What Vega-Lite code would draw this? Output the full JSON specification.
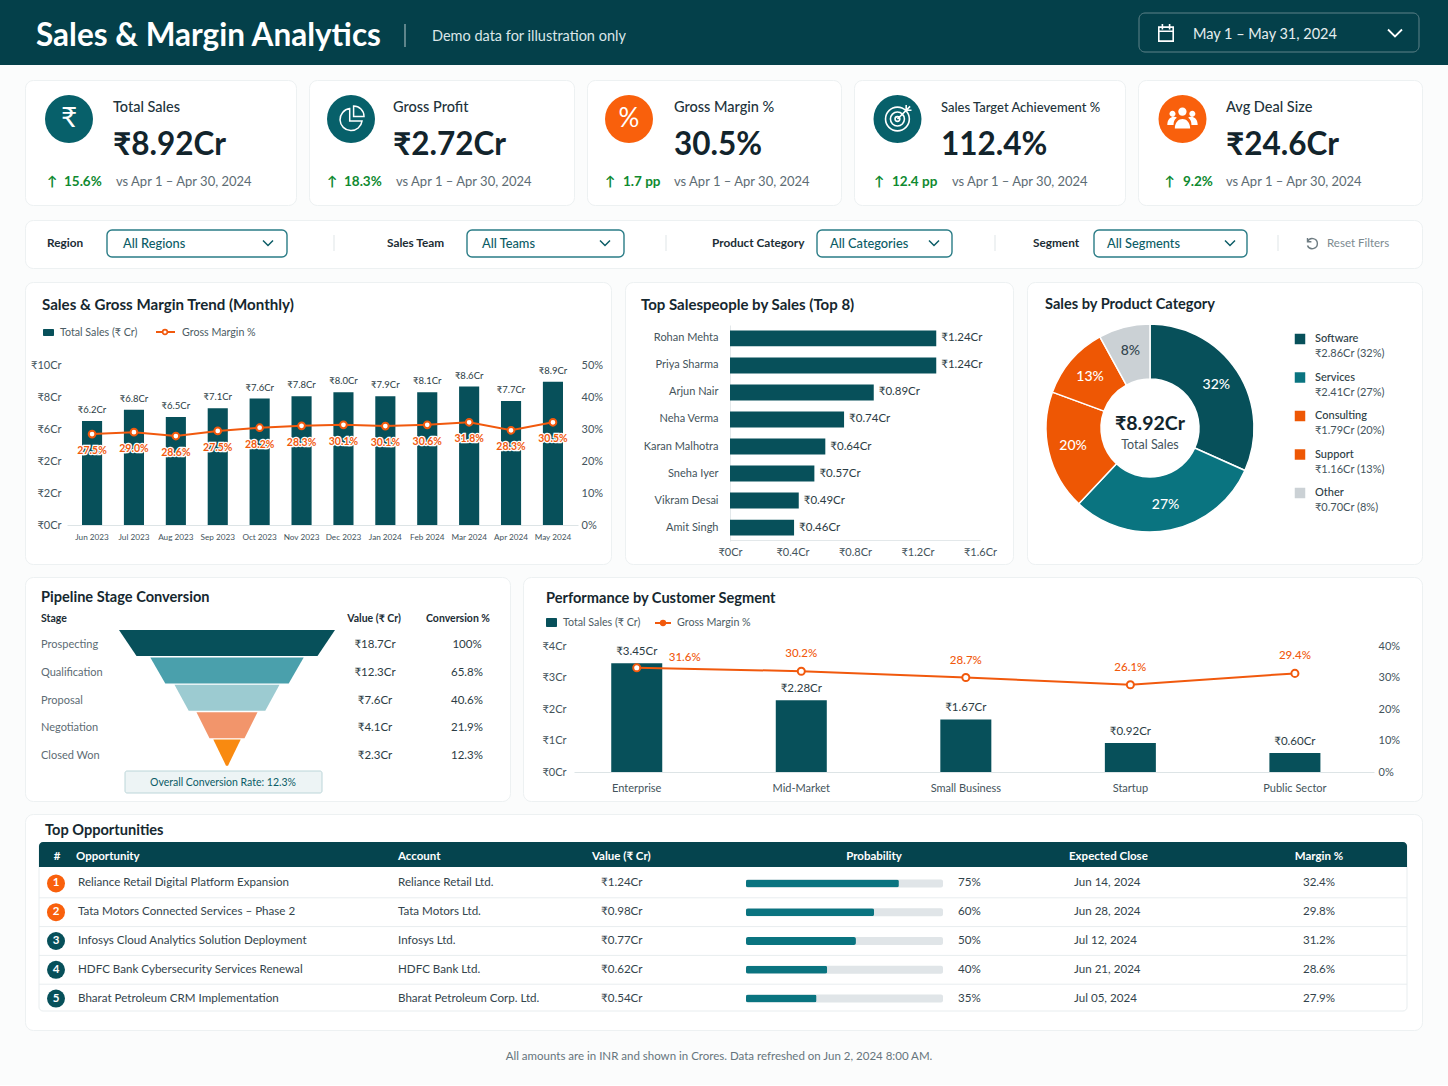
{
  "$schema": "https://vega.github.io/schema/vega-lite/v6.json",
  "description": "Sales and margin analytics dashboard",
  "background": "#fbfcfc",
  "padding": 0,
  "data": {"values": [{}]},
  "config": {
    "view": {"stroke": null},
    "font": "Lato",
    "text": {"font": "Lato", "baseline": "middle", "align": "left"},
    "axis": {"grid": false, "ticks": false, "domain": false, "labelFlush": false, "labelFont": "Lato", "labelColor": "#44545c", "labelFontSize": 11, "title": null},
    "style": {
      "cardTitle": {"fontSize": 14.6, "fontWeight": 700, "color": "#16282f"},
      "kpiLabel": {"fontSize": 14.5, "fontWeight": 500, "color": "#22333b"},
      "kpiValue": {"fontSize": 31.5, "fontWeight": 700, "color": "#12242c"},
      "kpiDelta": {"fontSize": 13.5, "fontWeight": 700, "color": "#0f8a30"},
      "kpiVs": {"fontSize": 13, "color": "#5d6c74"},
      "filterLabel": {"fontSize": 11.8, "fontWeight": 700, "color": "#1c2d35"},
      "filterValue": {"fontSize": 12.8, "fontWeight": 500, "color": "#0b5c66"},
      "legendText": {"fontSize": 10.7, "color": "#4c5c64"},
      "tableHead": {"fontSize": 11.5, "fontWeight": 700, "color": "#ffffff"},
      "tableCell": {"fontSize": 11.6, "color": "#33444c"}
    }
  },
  "datasets": {
    "trend": [
      {"month": "Jun 2023", "sales": 6.5, "salesLabel": "₹6.2Cr", "margin": 28.4, "marginLabel": "27.5%"},
      {"month": "Jul 2023", "sales": 7.2, "salesLabel": "₹6.8Cr", "margin": 29.0, "marginLabel": "29.0%"},
      {"month": "Aug 2023", "sales": 6.75, "salesLabel": "₹6.5Cr", "margin": 27.8, "marginLabel": "28.6%"},
      {"month": "Sep 2023", "sales": 7.3, "salesLabel": "₹7.1Cr", "margin": 29.4, "marginLabel": "27.5%"},
      {"month": "Oct 2023", "sales": 7.9, "salesLabel": "₹7.6Cr", "margin": 30.4, "marginLabel": "28.2%"},
      {"month": "Nov 2023", "sales": 8.05, "salesLabel": "₹7.8Cr", "margin": 31.0, "marginLabel": "28.3%"},
      {"month": "Dec 2023", "sales": 8.3, "salesLabel": "₹8.0Cr", "margin": 31.3, "marginLabel": "30.1%"},
      {"month": "Jan 2024", "sales": 8.05, "salesLabel": "₹7.9Cr", "margin": 30.9, "marginLabel": "30.1%"},
      {"month": "Feb 2024", "sales": 8.3, "salesLabel": "₹8.1Cr", "margin": 31.3, "marginLabel": "30.6%"},
      {"month": "Mar 2024", "sales": 8.65, "salesLabel": "₹8.6Cr", "margin": 32.1, "marginLabel": "31.8%"},
      {"month": "Apr 2024", "sales": 7.75, "salesLabel": "₹7.7Cr", "margin": 29.6, "marginLabel": "28.3%"},
      {"month": "May 2024", "sales": 8.95, "salesLabel": "₹8.9Cr", "margin": 32.1, "marginLabel": "30.5%"}
    ],
    "people": [
      {"name": "Rohan Mehta", "sales": 1.32, "label": "₹1.24Cr"},
      {"name": "Priya Sharma", "sales": 1.32, "label": "₹1.24Cr"},
      {"name": "Arjun Nair", "sales": 0.92, "label": "₹0.89Cr"},
      {"name": "Neha Verma", "sales": 0.73, "label": "₹0.74Cr"},
      {"name": "Karan Malhotra", "sales": 0.61, "label": "₹0.64Cr"},
      {"name": "Sneha Iyer", "sales": 0.54, "label": "₹0.57Cr"},
      {"name": "Vikram Desai", "sales": 0.44, "label": "₹0.49Cr"},
      {"name": "Amit Singh", "sales": 0.41, "label": "₹0.46Cr"}
    ],
    "category": [
      {"i": 1, "cat": "Software", "share": 31.7, "pct": "32%", "detail": "₹2.86Cr (32%)"},
      {"i": 2, "cat": "Services", "share": 30.3, "pct": "27%", "detail": "₹2.41Cr (27%)"},
      {"i": 3, "cat": "Consulting", "share": 18.6, "pct": "20%", "detail": "₹1.79Cr (20%)"},
      {"i": 4, "cat": "Support", "share": 11.4, "pct": "13%", "detail": "₹1.16Cr (13%)"},
      {"i": 5, "cat": "Other", "share": 8.0, "pct": "8%", "detail": "₹0.70Cr (8%)"}
    ],
    "funnel": [
      {"stage": "Prospecting", "level": 0, "from": -108, "to": 108},
      {"stage": "Prospecting", "level": 0.95, "from": -90.5, "to": 90.5},
      {"stage": "Qualification", "level": 1, "from": -76.7, "to": 76.7},
      {"stage": "Qualification", "level": 1.95, "from": -61.7, "to": 61.7},
      {"stage": "Proposal", "level": 2, "from": -52.5, "to": 52.5},
      {"stage": "Proposal", "level": 2.95, "from": -38.3, "to": 38.3},
      {"stage": "Negotiation", "level": 3, "from": -30.5, "to": 30.5},
      {"stage": "Negotiation", "level": 3.95, "from": -17.5, "to": 17.5},
      {"stage": "Closed Won", "level": 4, "from": -13.7, "to": 13.7},
      {"stage": "Closed Won", "level": 4.95, "from": -1, "to": 1}
    ],
    "stages": [
      {"stage": "Prospecting", "value": "₹18.7Cr", "conv": "100%"},
      {"stage": "Qualification", "value": "₹12.3Cr", "conv": "65.8%"},
      {"stage": "Proposal", "value": "₹7.6Cr", "conv": "40.6%"},
      {"stage": "Negotiation", "value": "₹4.1Cr", "conv": "21.9%"},
      {"stage": "Closed Won", "value": "₹2.3Cr", "conv": "12.3%"}
    ],
    "segment": [
      {"seg": "Enterprise", "sales": 3.45, "salesLabel": "₹3.45Cr", "margin": 33.1, "marginLabel": "31.6%"},
      {"seg": "Mid-Market", "sales": 2.28, "salesLabel": "₹2.28Cr", "margin": 32.0, "marginLabel": "30.2%"},
      {"seg": "Small Business", "sales": 1.67, "salesLabel": "₹1.67Cr", "margin": 30.0, "marginLabel": "28.7%"},
      {"seg": "Startup", "sales": 0.92, "salesLabel": "₹0.92Cr", "margin": 27.7, "marginLabel": "26.1%"},
      {"seg": "Public Sector", "sales": 0.6, "salesLabel": "₹0.60Cr", "margin": 31.3, "marginLabel": "29.4%"}
    ],
    "opps": [
      {"rank": 1, "opp": "Reliance Retail Digital Platform Expansion", "account": "Reliance Retail Ltd.", "value": "₹1.24Cr", "bar": 77.6, "prob": "75%", "close": "Jun 14, 2024", "margin": "32.4%"},
      {"rank": 2, "opp": "Tata Motors Connected Services – Phase 2", "account": "Tata Motors Ltd.", "value": "₹0.98Cr", "bar": 65, "prob": "60%", "close": "Jun 28, 2024", "margin": "29.8%"},
      {"rank": 3, "opp": "Infosys Cloud Analytics Solution Deployment", "account": "Infosys Ltd.", "value": "₹0.77Cr", "bar": 55.8, "prob": "50%", "close": "Jul 12, 2024", "margin": "31.2%"},
      {"rank": 4, "opp": "HDFC Bank Cybersecurity Services Renewal", "account": "HDFC Bank Ltd.", "value": "₹0.62Cr", "bar": 41.2, "prob": "40%", "close": "Jun 21, 2024", "margin": "28.6%"},
      {"rank": 5, "opp": "Bharat Petroleum CRM Implementation", "account": "Bharat Petroleum Corp. Ltd.", "value": "₹0.54Cr", "bar": 35.8, "prob": "35%", "close": "Jul 05, 2024", "margin": "27.9%"}
    ]
  },
  "spacing": 0,
  "vconcat": [
    {
      "width": 1448,
      "height": 65,
      "view": {"fill": "#04404a", "stroke": null},
      "layer": [
        {"mark": {"type": "text", "text": "Sales & Margin Analytics", "x": 36, "y": 37, "fontSize": 31.5, "fontWeight": 700, "fill": "#ffffff"}},
        {"mark": {"type": "rule", "stroke": "#9db4b8", "strokeWidth": 1.2}, "encoding": {"x": {"value": 405}, "y": {"value": 24}, "y2": {"value": 47}}},
        {"mark": {"type": "text", "text": "Demo data for illustration only", "x": 432, "y": 37, "fontSize": 14.5, "fill": "#dbe6e8"}},
        {"mark": {"type": "rect", "fill": "#04404a", "stroke": "#5f8289", "cornerRadius": 6}, "encoding": {"x": {"value": 1139}, "x2": {"value": 1419}, "y": {"value": 13}, "y2": {"value": 52}}},
        {"mark": {"type": "point", "x": 1166, "y": 33, "shape": "M-.8,-.65H.8V.9H-.8Z M-.8,-.2H.8 M-.4,-1V-.4 M.4,-1V-.4", "size": 324, "filled": false, "stroke": "#ffffff", "strokeWidth": 1.6, "opacity": 1}},
        {"mark": {"type": "text", "text": "May 1 – May 31, 2024", "x": 1193, "y": 35, "fontSize": 14.5, "fill": "#e6eeef"}},
        {"mark": {"type": "point", "x": 1395, "y": 33, "shape": "M-1,-.5L0,.5L1,-.5", "size": 196, "filled": false, "stroke": "#ffffff", "strokeWidth": 1.8, "opacity": 1}}
      ]
    },
    {"width": 1, "height": 14, "mark": {"type": "text", "text": ""}},
    {
      "bounds": "flush",
      "spacing": 13,
      "hconcat": [
        {"width": 12, "height": 10, "mark": {"type": "text", "text": ""}},
        {
          "width": 271, "height": 125,
          "view": {"fill": "#ffffff", "stroke": "#edf1f2", "cornerRadius": 8},
          "layer": [
            {"mark": {"type": "point", "x": 44, "y": 39, "size": 2304, "filled": true, "fill": "#07606a", "opacity": 1}},
            {"mark": {"type": "text", "text": "₹", "x": 44, "y": 39, "align": "center", "fontSize": 28, "fill": "#ffffff"}},
            {"mark": {"type": "text", "text": "Total Sales", "x": 88, "y": 28, "style": "kpiLabel"}},
            {"mark": {"type": "text", "text": "₹8.92Cr", "x": 88, "y": 66, "style": "kpiValue"}},
            {"mark": {"type": "text", "text": "↑", "x": 27, "y": 102, "align": "center", "style": "kpiDelta"}},
            {"mark": {"type": "text", "text": "15.6%", "x": 39, "y": 102, "style": "kpiDelta"}},
            {"mark": {"type": "text", "text": "vs Apr 1 – Apr 30, 2024", "x": 91, "y": 102, "style": "kpiVs"}}
          ]
        },
        {
          "width": 265, "height": 125,
          "view": {"fill": "#ffffff", "stroke": "#edf1f2", "cornerRadius": 8},
          "layer": [
            {"mark": {"type": "point", "x": 42, "y": 39, "size": 2304, "filled": true, "fill": "#07606a", "opacity": 1}},
            {"mark": {"type": "point", "x": 42, "y": 39, "size": 676, "filled": false, "stroke": "#ffffff", "strokeWidth": 1.5, "opacity": 1, "shape": "M-.1,-.8A.85,.85 0 1 0 .85,.15L-.1,.15Z M.2,-1A.8,.8 0 0 1 1,-.2L.2,-.2Z"}},
            {"mark": {"type": "text", "text": "Gross Profit", "x": 84, "y": 28, "style": "kpiLabel"}},
            {"mark": {"type": "text", "text": "₹2.72Cr", "x": 84, "y": 66, "style": "kpiValue"}},
            {"mark": {"type": "text", "text": "↑", "x": 23, "y": 102, "align": "center", "style": "kpiDelta"}},
            {"mark": {"type": "text", "text": "18.3%", "x": 35, "y": 102, "style": "kpiDelta"}},
            {"mark": {"type": "text", "text": "vs Apr 1 – Apr 30, 2024", "x": 87, "y": 102, "style": "kpiVs"}}
          ]
        },
        {
          "width": 254, "height": 125,
          "view": {"fill": "#ffffff", "stroke": "#edf1f2", "cornerRadius": 8},
          "layer": [
            {"mark": {"type": "point", "x": 42, "y": 39, "size": 2304, "filled": true, "fill": "#f9600c", "opacity": 1}},
            {"mark": {"type": "text", "text": "%", "x": 42, "y": 39, "align": "center", "fontSize": 26, "fill": "#ffffff"}},
            {"mark": {"type": "text", "text": "Gross Margin %", "x": 87, "y": 28, "style": "kpiLabel"}},
            {"mark": {"type": "text", "text": "30.5%", "x": 87, "y": 66, "style": "kpiValue"}},
            {"mark": {"type": "text", "text": "↑", "x": 23, "y": 102, "align": "center", "style": "kpiDelta"}},
            {"mark": {"type": "text", "text": "1.7 pp", "x": 36, "y": 102, "style": "kpiDelta"}},
            {"mark": {"type": "text", "text": "vs Apr 1 – Apr 30, 2024", "x": 87, "y": 102, "style": "kpiVs"}}
          ]
        },
        {
          "width": 271, "height": 125,
          "view": {"fill": "#ffffff", "stroke": "#edf1f2", "cornerRadius": 8},
          "layer": [
            {"mark": {"type": "point", "x": 43.5, "y": 39, "size": 2304, "filled": true, "fill": "#07606a", "opacity": 1}},
            {"mark": {"type": "point", "x": 43.5, "y": 39, "size": 784, "filled": false, "stroke": "#ffffff", "strokeWidth": 1.6, "opacity": 1, "shape": "M0,-.85A.85,.85 0 1 1 -.01,-.85Z M0,-.5A.5,.5 0 1 1 -.01,-.5Z M0,-.17A.17,.17 0 1 1 -.01,-.17Z M0,0L.9,-.9 M.62,-.62V-1 M.62,-.62H1"}},
            {"mark": {"type": "text", "text": "Sales Target Achievement %", "x": 87, "y": 28, "fontSize": 13, "fontWeight": 500, "fill": "#22333b"}},
            {"mark": {"type": "text", "text": "112.4%", "x": 87, "y": 66, "style": "kpiValue"}},
            {"mark": {"type": "text", "text": "↑", "x": 25, "y": 102, "align": "center", "style": "kpiDelta"}},
            {"mark": {"type": "text", "text": "12.4 pp", "x": 38, "y": 102, "style": "kpiDelta"}},
            {"mark": {"type": "text", "text": "vs Apr 1 – Apr 30, 2024", "x": 98, "y": 102, "style": "kpiVs"}}
          ]
        },
        {
          "width": 284, "height": 125,
          "view": {"fill": "#ffffff", "stroke": "#edf1f2", "cornerRadius": 8},
          "layer": [
            {"mark": {"type": "point", "x": 44.5, "y": 39, "size": 2304, "filled": true, "fill": "#f9600c", "opacity": 1}},
            {"mark": {"type": "point", "x": 44.5, "y": 39, "size": 1024, "filled": true, "fill": "#ffffff", "opacity": 1, "shape": "M0,-.72A.26,.26 0 1 1 -.01,-.72Z M-.62,-.52A.19,.19 0 1 1 -.63,-.52Z M.62,-.52A.19,.19 0 1 1 .61,-.52Z M-.48,.6C-.48,-.2 .48,-.2 .48,.6Z M-.95,.38C-.95,-.2 -.45,-.2 -.36,-.08C-.52,.02 -.56,.2 -.56,.38Z M.95,.38C.95,-.2 .45,-.2 .36,-.08C.52,.02 .56,.2 .56,.38Z"}},
            {"mark": {"type": "text", "text": "Avg Deal Size", "x": 88, "y": 28, "style": "kpiLabel"}},
            {"mark": {"type": "text", "text": "₹24.6Cr", "x": 88, "y": 66, "style": "kpiValue"}},
            {"mark": {"type": "text", "text": "↑", "x": 31.5, "y": 102, "align": "center", "style": "kpiDelta"}},
            {"mark": {"type": "text", "text": "9.2%", "x": 45, "y": 102, "style": "kpiDelta"}},
            {"mark": {"type": "text", "text": "vs Apr 1 – Apr 30, 2024", "x": 88, "y": 102, "style": "kpiVs"}}
          ]
        }
      ]
    },
    {"width": 1, "height": 13, "mark": {"type": "text", "text": ""}},
    {
      "bounds": "flush",
      "spacing": 13,
      "hconcat": [
        {"width": 12, "height": 10, "mark": {"type": "text", "text": ""}},
        {
          "width": 1397, "height": 48,
          "view": {"fill": "#ffffff", "stroke": "#edf1f2", "cornerRadius": 8},
          "layer": [
            {"mark": {"type": "text", "text": "Region", "x": 22, "y": 23, "style": "filterLabel"}},
            {"mark": {"type": "rect", "fill": "#ffffff", "stroke": "#2a7c86", "strokeWidth": 1.4, "cornerRadius": 5}, "encoding": {"x": {"value": 82}, "x2": {"value": 262}, "y": {"value": 10}, "y2": {"value": 37}}},
            {"mark": {"type": "text", "text": "All Regions", "x": 98, "y": 24, "style": "filterValue"}},
            {"mark": {"type": "point", "x": 243, "y": 23, "shape": "M-1,-.5L0,.5L1,-.5", "size": 100, "filled": false, "stroke": "#0b5c66", "strokeWidth": 1.5, "opacity": 1}},
            {"mark": {"type": "rule", "stroke": "#dfe5e7"}, "encoding": {"x": {"value": 309}, "y": {"value": 15}, "y2": {"value": 31}}},
            {"mark": {"type": "text", "text": "Sales Team", "x": 362, "y": 23, "style": "filterLabel"}},
            {"mark": {"type": "rect", "fill": "#ffffff", "stroke": "#2a7c86", "strokeWidth": 1.4, "cornerRadius": 5}, "encoding": {"x": {"value": 442}, "x2": {"value": 599}, "y": {"value": 10}, "y2": {"value": 37}}},
            {"mark": {"type": "text", "text": "All Teams", "x": 457, "y": 24, "style": "filterValue"}},
            {"mark": {"type": "point", "x": 580, "y": 23, "shape": "M-1,-.5L0,.5L1,-.5", "size": 100, "filled": false, "stroke": "#0b5c66", "strokeWidth": 1.5, "opacity": 1}},
            {"mark": {"type": "rule", "stroke": "#dfe5e7"}, "encoding": {"x": {"value": 641}, "y": {"value": 15}, "y2": {"value": 31}}},
            {"mark": {"type": "text", "text": "Product Category", "x": 687, "y": 23, "style": "filterLabel"}},
            {"mark": {"type": "rect", "fill": "#ffffff", "stroke": "#2a7c86", "strokeWidth": 1.4, "cornerRadius": 5}, "encoding": {"x": {"value": 792}, "x2": {"value": 927}, "y": {"value": 10}, "y2": {"value": 37}}},
            {"mark": {"type": "text", "text": "All Categories", "x": 805, "y": 24, "style": "filterValue"}},
            {"mark": {"type": "point", "x": 909, "y": 23, "shape": "M-1,-.5L0,.5L1,-.5", "size": 100, "filled": false, "stroke": "#0b5c66", "strokeWidth": 1.5, "opacity": 1}},
            {"mark": {"type": "rule", "stroke": "#dfe5e7"}, "encoding": {"x": {"value": 970}, "y": {"value": 15}, "y2": {"value": 31}}},
            {"mark": {"type": "text", "text": "Segment", "x": 1008, "y": 23, "style": "filterLabel"}},
            {"mark": {"type": "rect", "fill": "#ffffff", "stroke": "#2a7c86", "strokeWidth": 1.4, "cornerRadius": 5}, "encoding": {"x": {"value": 1069}, "x2": {"value": 1222}, "y": {"value": 10}, "y2": {"value": 37}}},
            {"mark": {"type": "text", "text": "All Segments", "x": 1082, "y": 24, "style": "filterValue"}},
            {"mark": {"type": "point", "x": 1205, "y": 23, "shape": "M-1,-.5L0,.5L1,-.5", "size": 100, "filled": false, "stroke": "#0b5c66", "strokeWidth": 1.5, "opacity": 1}},
            {"mark": {"type": "rule", "stroke": "#dfe5e7"}, "encoding": {"x": {"value": 1253}, "y": {"value": 15}, "y2": {"value": 31}}},
            {"mark": {"type": "point", "x": 1287, "y": 23, "shape": "M-.75,-.85V-.2H-.1 M-.75,-.2A.85,.85 0 1 1 -.75,.4", "size": 144, "filled": false, "stroke": "#6e7c82", "strokeWidth": 1.4, "opacity": 1}},
            {"mark": {"type": "text", "text": "Reset Filters", "x": 1302, "y": 24, "fontSize": 11.5, "fill": "#7c8a90"}}
          ]
        }
      ]
    },
    {"width": 1, "height": 12, "mark": {"type": "text", "text": ""}},
    {
      "bounds": "flush",
      "spacing": 14,
      "hconcat": [
        {"width": 11, "height": 10, "mark": {"type": "text", "text": ""}},
        {
          "width": 586, "height": 282,
          "view": {"fill": "#ffffff", "stroke": "#edf1f2", "cornerRadius": 8},
          "resolve": {"scale": {"y": "independent"}, "axis": {"y": "independent"}},
          "layer": [
            {"mark": {"type": "text", "text": "Sales & Gross Margin Trend (Monthly)", "x": 17, "y": 23, "fontSize": 15.1, "fontWeight": 700, "fill": "#16282f"}},
            {"mark": {"type": "rect", "fill": "#07505a", "cornerRadius": 1}, "encoding": {"x": {"value": 18}, "x2": {"value": 29}, "y": {"value": 47}, "y2": {"value": 54}}},
            {"mark": {"type": "text", "text": "Total Sales (₹ Cr)", "x": 35, "y": 51, "style": "legendText"}},
            {"mark": {"type": "rule", "stroke": "#f1590d", "strokeWidth": 2}, "encoding": {"x": {"value": 131}, "x2": {"value": 150}, "y": {"value": 50}}},
            {"mark": {"type": "point", "x": 140, "y": 50, "size": 22, "filled": true, "fill": "#ffffff", "stroke": "#f1590d", "strokeWidth": 1.6, "opacity": 1}},
            {"mark": {"type": "text", "text": "Gross Margin %", "x": 157, "y": 51, "style": "legendText"}},
            {
              "data": {"name": "trend"},
              "encoding": {
                "x": {"field": "month", "type": "nominal", "sort": null, "scale": {"range": [42, 553], "paddingInner": 0.52, "paddingOuter": 0.358},
                  "axis": {"orient": "bottom", "offset": -39, "labelAngle": 0, "labelPadding": 8, "labelFontSize": 8.2, "domain": true, "domainColor": "#dde4e6"}},
                "y": {"field": "sales", "type": "quantitative", "scale": {"domain": [0, 10], "range": [243, 83]},
                  "axis": {"orient": "left", "offset": -42, "values": [0, 2, 4, 6, 8, 10], "labelPadding": 6, "labelExpr": "datum.value == 4 ? '₹2Cr' : '₹' + datum.value + 'Cr'"}}
              },
              "layer": [
                {"mark": {"type": "bar", "color": "#07505a"}},
                {"mark": {"type": "text", "align": "center", "dy": -11, "fontSize": 9.5, "fill": "#2b3c44"}, "encoding": {"text": {"field": "salesLabel"}}}
              ]
            },
            {
              "data": {"name": "trend"},
              "encoding": {
                "x": {"field": "month", "type": "nominal", "sort": null},
                "y": {"field": "margin", "type": "quantitative", "scale": {"domain": [0, 50], "range": [243, 83]},
                  "axis": {"orient": "right", "offset": -33, "values": [0, 10, 20, 30, 40, 50], "labelPadding": 3, "labelExpr": "datum.value + '%'"}}
              },
              "layer": [
                {"mark": {"type": "line", "color": "#f1590d", "strokeWidth": 2}},
                {"mark": {"type": "point", "filled": true, "fill": "#ffffff", "stroke": "#f1590d", "strokeWidth": 2, "size": 45, "opacity": 1}},
                {"mark": {"type": "text", "align": "center", "dy": 17, "fontSize": 10.5, "fontWeight": 700, "stroke": "#ffffff", "strokeWidth": 2.5, "fill": "#ffffff"}, "encoding": {"text": {"field": "marginLabel"}}},
                {"mark": {"type": "text", "align": "center", "dy": 17, "fontSize": 10.5, "fontWeight": 700, "fill": "#f1590d"}, "encoding": {"text": {"field": "marginLabel"}}}
              ]
            }
          ]
        },
        {
          "width": 388, "height": 282,
          "view": {"fill": "#ffffff", "stroke": "#edf1f2", "cornerRadius": 8},
          "layer": [
            {"mark": {"type": "text", "text": "Top Salespeople by Sales (Top 8)", "x": 16, "y": 23, "fontSize": 15, "fontWeight": 700, "fill": "#16282f"}},
            {
              "data": {"name": "people"},
              "encoding": {
                "x": {"field": "sales", "type": "quantitative", "scale": {"domain": [0, 1.6], "range": [105, 355]},
                  "axis": {"orient": "bottom", "offset": -24, "values": [0, 0.4, 0.8, 1.2, 1.6], "labelPadding": 6, "domain": true, "domainColor": "#e3e8ea", "labelExpr": "'₹' + datum.value + 'Cr'"}},
                "y": {"field": "name", "type": "nominal", "sort": null, "scale": {"range": [43, 259], "paddingInner": 0.41, "paddingOuter": 0.2},
                  "axis": {"orient": "left", "offset": -105, "labelPadding": 12, "domain": true, "domainColor": "#e3e8ea"}}
              },
              "layer": [
                {"mark": {"type": "bar", "color": "#07505a"}},
                {"mark": {"type": "text", "dx": 5, "fontSize": 11.5, "fill": "#2b3c44"}, "encoding": {"text": {"field": "label"}}}
              ]
            }
          ]
        },
        {
          "width": 395, "height": 282,
          "view": {"fill": "#ffffff", "stroke": "#edf1f2", "cornerRadius": 8},
          "layer": [
            {"mark": {"type": "text", "text": "Sales by Product Category", "x": 18, "y": 23, "style": "cardTitle"}},
            {
              "data": {"name": "category"},
              "encoding": {
                "theta": {"field": "share", "type": "quantitative", "stack": true},
                "order": {"field": "i", "type": "quantitative"}
              },
              "layer": [
                {
                  "mark": {"type": "arc", "x": 123, "y": 146, "radius": 104, "radius2": 49, "stroke": "#ffffff", "strokeWidth": 1.5},
                  "encoding": {"color": {"field": "cat", "type": "nominal", "legend": null, "scale": {"domain": ["Software", "Services", "Consulting", "Support", "Other"], "range": ["#07505a", "#0a7480", "#ee5704", "#ee5704", "#cbd1d5"]}}}
                },
                {
                  "mark": {"type": "text", "x": 123, "y": 146, "align": "center", "fontSize": 14, "fontWeight": 500},
                  "encoding": {
                    "radius": {"value": 79},
                    "detail": {"field": "cat"},
                    "text": {"field": "pct"},
                    "color": {"condition": {"test": "datum.cat === 'Other'", "value": "#33454d"}, "value": "#ffffff"}
                  }
                }
              ]
            },
            {"mark": {"type": "text", "text": "₹8.92Cr", "x": 123, "y": 142, "align": "center", "fontSize": 19.5, "fontWeight": 700, "fill": "#12242c"}},
            {"mark": {"type": "text", "text": "Total Sales", "x": 123, "y": 163, "align": "center", "fontSize": 12.5, "fill": "#44545c"}},
            {
              "data": {"name": "category"},
              "encoding": {
                "y": {"field": "cat", "type": "nominal", "sort": null, "axis": null, "scale": {"domain": ["Software", "Services", "Consulting", "Support", "Other"], "range": [57, 211], "padding": 0}}
              },
              "layer": [
                {
                  "mark": {"type": "point", "x": 273, "shape": "square", "size": 110, "filled": true, "opacity": 1},
                  "encoding": {"color": {"field": "cat", "type": "nominal", "legend": null, "scale": {"domain": ["Software", "Services", "Consulting", "Support", "Other"], "range": ["#07505a", "#0a7480", "#ee5704", "#ee5704", "#cbd1d5"]}}}
                },
                {"mark": {"type": "text", "x": 288, "fontSize": 11, "fontWeight": 500, "fill": "#2b3c44"}, "encoding": {"text": {"field": "cat"}}},
                {"mark": {"type": "text", "x": 288, "dy": 15, "fontSize": 11, "fill": "#44545c"}, "encoding": {"text": {"field": "detail"}}}
              ]
            }
          ]
        }
      ]
    },
    {"width": 1, "height": 10, "mark": {"type": "text", "text": ""}},
    {
      "bounds": "flush",
      "spacing": 13,
      "hconcat": [
        {"width": 12, "height": 10, "mark": {"type": "text", "text": ""}},
        {
          "width": 485, "height": 224,
          "view": {"fill": "#ffffff", "stroke": "#edf1f2", "cornerRadius": 8},
          "resolve": {"scale": {"y": "independent"}},
          "layer": [
            {"mark": {"type": "text", "text": "Pipeline Stage Conversion", "x": 16, "y": 21, "style": "cardTitle"}},
            {"mark": {"type": "text", "text": "Stage", "x": 16, "y": 42, "fontSize": 10.5, "fontWeight": 700, "fill": "#1c2d35"}},
            {"mark": {"type": "text", "text": "Value (₹ Cr)", "x": 349, "y": 42, "align": "center", "fontSize": 10.5, "fontWeight": 700, "fill": "#1c2d35"}},
            {"mark": {"type": "text", "text": "Conversion %", "x": 433, "y": 42, "align": "center", "fontSize": 10.5, "fontWeight": 700, "fill": "#1c2d35"}},
            {
              "data": {"name": "funnel"},
              "mark": {"type": "area", "orient": "horizontal", "opacity": 1},
              "encoding": {
                "y": {"field": "level", "type": "quantitative", "axis": null, "scale": {"domain": [0, 5], "range": [53, 190]}},
                "x": {"field": "from", "type": "quantitative", "axis": null, "scale": {"domain": [-120, 120], "range": [82, 322]}},
                "x2": {"field": "to"},
                "fill": {"field": "stage", "type": "nominal", "legend": null, "scale": {"domain": ["Prospecting", "Qualification", "Proposal", "Negotiation", "Closed Won"], "range": ["#07505a", "#4aa0ac", "#9ccbd1", "#f2956b", "#f98a10"]}}
              }
            },
            {
              "data": {"name": "stages"},
              "encoding": {
                "y": {"field": "stage", "type": "nominal", "sort": null, "axis": null, "scale": {"range": [68, 179], "padding": 0}}
              },
              "layer": [
                {"mark": {"type": "text", "x": 16, "fontSize": 11, "fill": "#5d6c74"}, "encoding": {"text": {"field": "stage"}}},
                {"mark": {"type": "text", "x": 350, "align": "center", "fontSize": 11.5, "fill": "#2b3c44"}, "encoding": {"text": {"field": "value"}}},
                {"mark": {"type": "text", "x": 442, "align": "center", "fontSize": 11.5, "fill": "#2b3c44"}, "encoding": {"text": {"field": "conv"}}}
              ]
            },
            {"mark": {"type": "rect", "fill": "#edf4f5", "stroke": "#bcd6d9", "cornerRadius": 2}, "encoding": {"x": {"value": 100}, "x2": {"value": 297}, "y": {"value": 194}, "y2": {"value": 216}}},
            {"mark": {"type": "text", "text": "Overall Conversion Rate: 12.3%", "x": 198, "y": 206, "align": "center", "fontSize": 10.5, "fill": "#0b5c66"}}
          ]
        },
        {
          "width": 899, "height": 224,
          "view": {"fill": "#ffffff", "stroke": "#edf1f2", "cornerRadius": 8},
          "resolve": {"scale": {"y": "independent"}, "axis": {"y": "independent"}},
          "layer": [
            {"mark": {"type": "text", "text": "Performance by Customer Segment", "x": 23, "y": 22, "style": "cardTitle"}},
            {"mark": {"type": "rect", "fill": "#07505a", "cornerRadius": 1}, "encoding": {"x": {"value": 23}, "x2": {"value": 34}, "y": {"value": 41}, "y2": {"value": 50}}},
            {"mark": {"type": "text", "text": "Total Sales (₹ Cr)", "x": 40, "y": 46, "style": "legendText"}},
            {"mark": {"type": "rule", "stroke": "#f1590d", "strokeWidth": 2}, "encoding": {"x": {"value": 132}, "x2": {"value": 148}, "y": {"value": 46}}},
            {"mark": {"type": "point", "x": 140, "y": 46, "size": 40, "filled": true, "fill": "#f1590d", "opacity": 1}},
            {"mark": {"type": "text", "text": "Gross Margin %", "x": 154, "y": 46, "style": "legendText"}},
            {
              "data": {"name": "segment"},
              "encoding": {
                "x": {"field": "seg", "type": "nominal", "sort": null, "scale": {"range": [51, 851], "paddingInner": 0.69, "paddingOuter": 0.276, "align": 0.41},
                  "axis": {"orient": "bottom", "offset": -29, "labelAngle": 0, "labelPadding": 10, "domain": true, "domainColor": "#dde4e6"}},
                "y": {"field": "sales", "type": "quantitative", "scale": {"domain": [0, 4], "range": [195, 69]},
                  "axis": {"orient": "left", "offset": -51, "values": [0, 1, 2, 3, 4], "labelPadding": 8, "labelExpr": "'₹' + datum.value + 'Cr'"}}
              },
              "layer": [
                {"mark": {"type": "bar", "color": "#07505a"}},
                {"mark": {"type": "text", "align": "center", "dy": -11, "fontSize": 11.5, "fill": "#2b3c44"}, "encoding": {"text": {"field": "salesLabel"}}}
              ]
            },
            {
              "data": {"name": "segment"},
              "encoding": {
                "x": {"field": "seg", "type": "nominal", "sort": null},
                "y": {"field": "margin", "type": "quantitative", "scale": {"domain": [0, 40], "range": [195, 69]},
                  "axis": {"orient": "right", "offset": -48, "values": [0, 10, 20, 30, 40], "labelPadding": 4, "labelExpr": "datum.value + '%'"}}
              },
              "layer": [
                {"mark": {"type": "line", "color": "#f1590d", "strokeWidth": 2}},
                {"mark": {"type": "point", "filled": true, "fill": "#ffffff", "stroke": "#f1590d", "strokeWidth": 2, "size": 50, "opacity": 1}},
                {"transform": [{"filter": "datum.seg !== 'Enterprise'"}], "mark": {"type": "text", "align": "center", "dy": -17, "fontSize": 11.5, "fontWeight": 500, "fill": "#f1590d"}, "encoding": {"text": {"field": "marginLabel"}}},
                {"transform": [{"filter": "datum.seg === 'Enterprise'"}], "mark": {"type": "text", "align": "center", "dx": 48, "dy": -10, "fontSize": 11.5, "fontWeight": 500, "fill": "#f1590d"}, "encoding": {"text": {"field": "marginLabel"}}}
              ]
            }
          ]
        }
      ]
    },
    {"width": 1, "height": 10, "mark": {"type": "text", "text": ""}},
    {
      "bounds": "flush",
      "spacing": 13,
      "hconcat": [
        {"width": 12, "height": 10, "mark": {"type": "text", "text": ""}},
        {
          "width": 1397, "height": 216,
          "view": {"fill": "#ffffff", "stroke": "#edf1f2", "cornerRadius": 8},
          "layer": [
            {"mark": {"type": "text", "text": "Top Opportunities", "x": 20, "y": 17, "style": "cardTitle"}},
            {"mark": {"type": "rect", "fill": "#ffffff", "stroke": "#e8edef", "cornerRadius": 4}, "encoding": {"x": {"value": 14}, "x2": {"value": 1382}, "y": {"value": 29}, "y2": {"value": 197}}},
            {"mark": {"type": "rect", "fill": "#05444e", "cornerRadiusTopLeft": 4, "cornerRadiusTopRight": 4}, "encoding": {"x": {"value": 14}, "x2": {"value": 1382}, "y": {"value": 28}, "y2": {"value": 53}}},
            {"mark": {"type": "text", "text": "#", "x": 32, "y": 43, "align": "center", "style": "tableHead"}},
            {"mark": {"type": "text", "text": "Opportunity", "x": 51, "y": 43, "style": "tableHead"}},
            {"mark": {"type": "text", "text": "Account", "x": 373, "y": 43, "style": "tableHead"}},
            {"mark": {"type": "text", "text": "Value (₹ Cr)", "x": 567, "y": 43, "style": "tableHead"}},
            {"mark": {"type": "text", "text": "Probability", "x": 849, "y": 43, "align": "center", "style": "tableHead"}},
            {"mark": {"type": "text", "text": "Expected Close", "x": 1044, "y": 43, "style": "tableHead"}},
            {"mark": {"type": "text", "text": "Margin %", "x": 1294, "y": 43, "align": "center", "style": "tableHead"}},
            {
              "data": {"name": "opps"},
              "encoding": {
                "y": {"field": "rank", "type": "ordinal", "axis": null, "scale": {"type": "band", "range": [55, 199], "padding": 0}}
              },
              "layer": [
                {
                  "transform": [{"filter": "datum.rank < 5"}],
                  "mark": {"type": "rule", "stroke": "#e8edef"},
                  "encoding": {"y": {"field": "rank", "type": "ordinal", "bandPosition": 1}, "x": {"value": 14}, "x2": {"value": 1382}}
                },
                {
                  "mark": {"type": "point", "x": 31, "filled": true, "size": 324, "opacity": 1},
                  "encoding": {"color": {"condition": {"test": "datum.rank <= 2", "value": "#f9600c"}, "value": "#07505a"}}
                },
                {"mark": {"type": "text", "x": 31, "align": "center", "fontSize": 11.5, "fontWeight": 700, "fill": "#ffffff"}, "encoding": {"text": {"field": "rank"}}},
                {"mark": {"type": "text", "x": 53, "style": "tableCell"}, "encoding": {"text": {"field": "opp"}}},
                {"mark": {"type": "text", "x": 373, "style": "tableCell"}, "encoding": {"text": {"field": "account"}}},
                {"mark": {"type": "text", "x": 576, "style": "tableCell"}, "encoding": {"text": {"field": "value"}}},
                {
                  "mark": {"type": "bar", "height": 8, "color": "#e0e5e8", "cornerRadius": 2},
                  "encoding": {
                    "x": {"datum": 0, "type": "quantitative", "axis": null, "scale": {"domain": [0, 100], "range": [721, 918]}},
                    "x2": {"datum": 100}
                  }
                },
                {
                  "mark": {"type": "bar", "height": 8, "color": "#0a7480", "cornerRadius": 2},
                  "encoding": {"x": {"field": "bar", "type": "quantitative", "axis": null}}
                },
                {"mark": {"type": "text", "x": 933, "style": "tableCell"}, "encoding": {"text": {"field": "prob"}}},
                {"mark": {"type": "text", "x": 1049, "style": "tableCell"}, "encoding": {"text": {"field": "close"}}},
                {"mark": {"type": "text", "x": 1294, "align": "center", "style": "tableCell"}, "encoding": {"text": {"field": "margin"}}}
              ]
            }
          ]
        }
      ]
    },
    {"width": 1, "height": 14, "mark": {"type": "text", "text": ""}},
    {
      "width": 1448,
      "height": 40,
      "mark": {"type": "text", "text": "All amounts are in INR and shown in Crores. Data refreshed on Jun 2, 2024 8:00 AM.", "x": 719, "y": 12, "align": "center", "fontSize": 11.5, "fill": "#66757c"}
    }
  ]
}
